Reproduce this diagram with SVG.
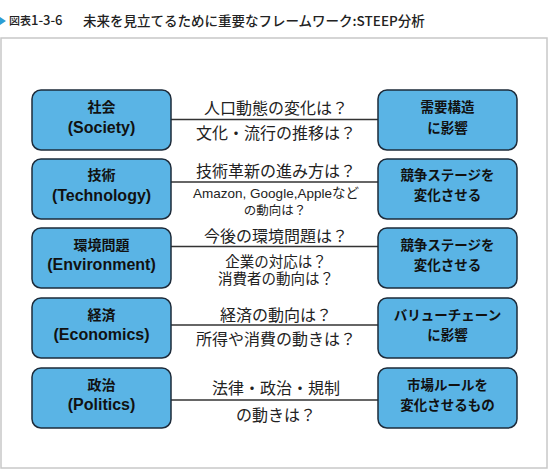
<svg xmlns="http://www.w3.org/2000/svg" width="550" height="470" viewBox="0 0 550 470">
<style>
.box{fill:#5ab4e5;stroke:#1d2b3a;stroke-width:1.5}
.bt{font-family:"Liberation Sans","Noto Sans CJK JP",sans-serif;font-weight:bold;fill:#111;text-anchor:middle}
.jp{font-size:14px}
.en{font-size:16px}
.rt{font-size:13.5px}
.mt{font-family:"Liberation Sans","Noto Sans CJK JP",sans-serif;fill:#222;text-anchor:middle}
.conn{stroke:#333;stroke-width:1.3}
</style>
<rect width="550" height="470" fill="#fff"/>
<g id="title">
<polygon points="0,17 6,21 0,25" fill="#2a9fd6"/>
<text x="9" y="25" font-family="Noto Sans CJK JP,sans-serif" font-weight="500" fill="#222"><tspan font-size="11">図表</tspan><tspan font-size="13">1-3-6</tspan></text>
<text x="83" y="26" font-family="Noto Sans CJK JP,sans-serif" font-size="13.5" font-weight="500" fill="#222">未来を見立てるために重要なフレームワーク:STEEP分析</text>
</g>
<rect id="frame" x="1" y="38" width="546" height="430" fill="#fff" stroke="#c8c8c8" stroke-width="1.5"/>
<g id="connectors">
<line class="conn" x1="171" y1="119.5" x2="378" y2="119.5"/>
<line class="conn" x1="171" y1="182" x2="378" y2="182"/>
<line class="conn" x1="171" y1="246.5" x2="378" y2="246.5"/>
<line class="conn" x1="171" y1="325" x2="378" y2="325"/>
<line class="conn" x1="171" y1="400" x2="378" y2="400"/>
</g>
<g id="labels">
<text class="mt" x="276" y="114" font-size="16">人口動態の変化は？</text>
<text class="mt" x="276" y="138.5" font-size="16">文化・流行の推移は？</text>
<text class="mt" x="276" y="176.5" font-size="16">技術革新の進み方は？</text>
<text class="mt" x="276" y="198" font-size="13.5">Amazon, Google,Appleなど</text>
<text class="mt" x="275" y="215" font-size="12.5">の動向は？</text>
<text class="mt" x="276" y="242" font-size="16">今後の環境問題は？</text>
<text class="mt" x="276" y="267" font-size="14.5">企業の対応は？</text>
<text class="mt" x="276" y="284" font-size="14.5">消費者の動向は？</text>
<text class="mt" x="276" y="320.5" font-size="16">経済の動向は？</text>
<text class="mt" x="276" y="344.5" font-size="16">所得や消費の動きは？</text>
<text class="mt" x="276" y="394" font-size="16">法律・政治・規制</text>
<text class="mt" x="276" y="421" font-size="16">の動きは？</text>
</g>
<g id="society">
<rect class="box" x="32" y="90" width="139" height="60" rx="9"/>
<text class="bt jp" x="101.5" y="112">社会</text>
<text class="bt en" x="101.5" y="133">(Society)</text>
</g>
<g id="technology">
<rect class="box" x="32" y="159" width="139" height="60" rx="9"/>
<text class="bt jp" x="101.5" y="180">技術</text>
<text class="bt en" x="101.5" y="201">(Technology)</text>
</g>
<g id="environment">
<rect class="box" x="32" y="228" width="139" height="60" rx="9"/>
<text class="bt jp" x="101.5" y="250">環境問題</text>
<text class="bt en" x="101.5" y="270">(Environment)</text>
</g>
<g id="economics">
<rect class="box" x="32" y="298" width="139" height="60" rx="9"/>
<text class="bt jp" x="101.5" y="320">経済</text>
<text class="bt en" x="101.5" y="340">(Economics)</text>
</g>
<g id="politics">
<rect class="box" x="32" y="368" width="139" height="60" rx="9"/>
<text class="bt jp" x="101.5" y="390">政治</text>
<text class="bt en" x="101.5" y="410">(Politics)</text>
</g>
<g id="demand">
<rect class="box" x="378" y="90" width="139" height="60" rx="9"/>
<text class="bt rt" x="447.5" y="112">需要構造</text>
<text class="bt rt" x="447.5" y="133">に影響</text>
</g>
<g id="competition1">
<rect class="box" x="378" y="159" width="139" height="60" rx="9"/>
<text class="bt rt" x="447.5" y="180">競争ステージを</text>
<text class="bt rt" x="447.5" y="200">変化させる</text>
</g>
<g id="competition2">
<rect class="box" x="378" y="228" width="139" height="60" rx="9"/>
<text class="bt rt" x="447.5" y="250">競争ステージを</text>
<text class="bt rt" x="447.5" y="270">変化させる</text>
</g>
<g id="valuechain">
<rect class="box" x="378" y="298" width="139" height="60" rx="9"/>
<text class="bt rt" x="447.5" y="320">バリューチェーン</text>
<text class="bt rt" x="447.5" y="340">に影響</text>
</g>
<g id="market">
<rect class="box" x="378" y="368" width="139" height="60" rx="9"/>
<text class="bt rt" x="447.5" y="390">市場ルールを</text>
<text class="bt rt" x="447.5" y="410">変化させるもの</text>
</g>
</svg>
